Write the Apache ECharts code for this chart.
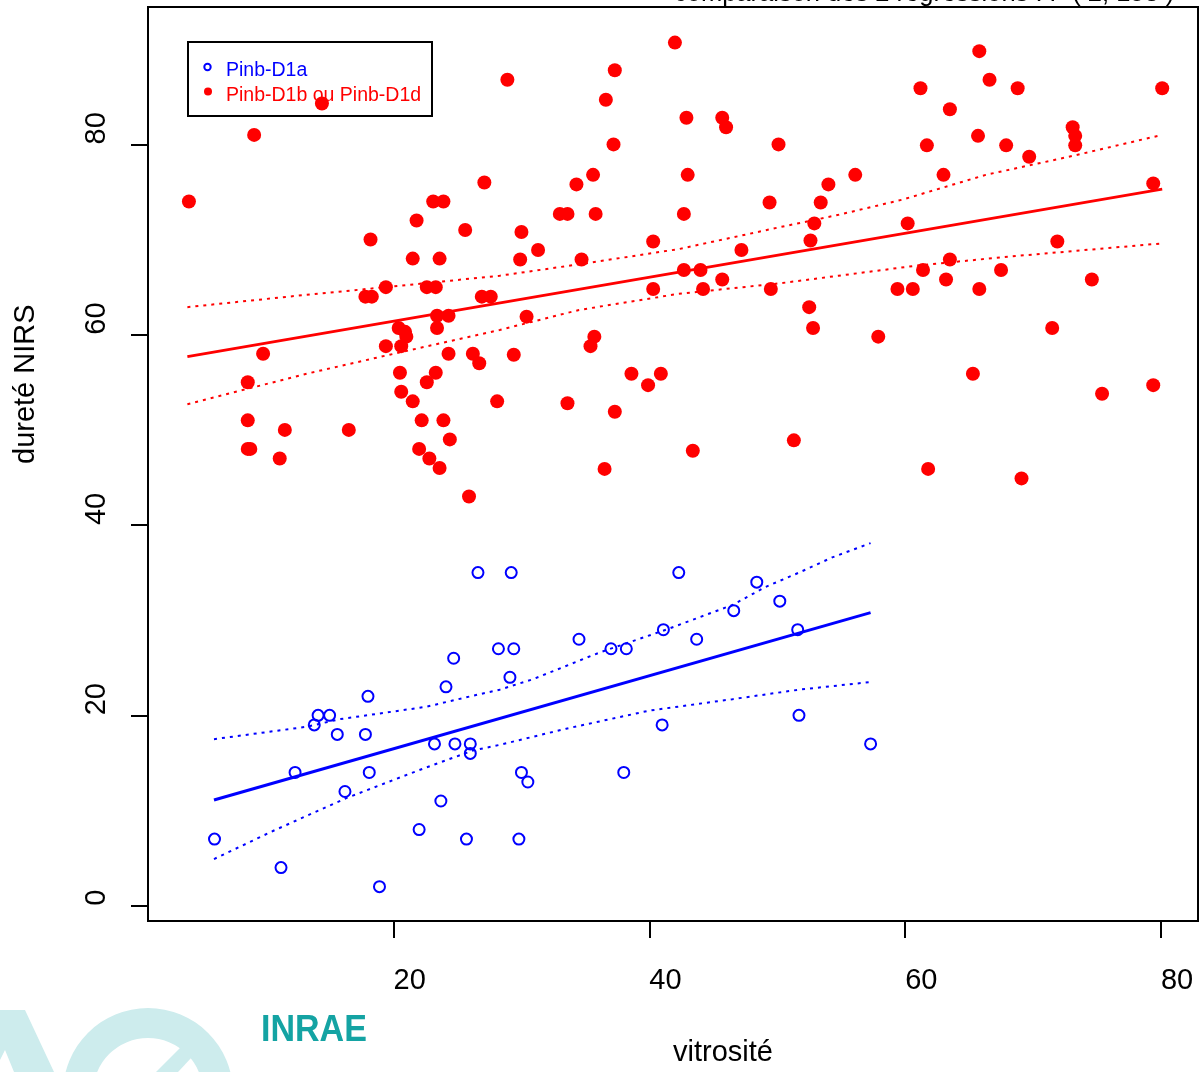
<!DOCTYPE html>
<html><head><meta charset="utf-8">
<script src="https://cdn.jsdelivr.net/npm/echarts@6/dist/echarts.min.js"></script>
<style>html,body{margin:0;padding:0;background:#fff}#c{width:1200px;height:1072px}</style>
</head><body><div id="c"></div>
<script>
// ---- data ----
const xTicks = [20, 40, 60, 80];
const yTicks = [0, 20, 40, 60, 80];
const titleText = 'comparaison des 2 regressions : F ( 2, 153 ) = 2';
const xName = 'vitrosité';
const yName = 'dureté NIRS';
const blueName = 'Pinb-D1a';
const redName = 'Pinb-D1b ou Pinb-D1d';

const blueX = [6, 11.2, 18.9, 12.3, 14.1, 15, 13.8, 15.6, 17.8, 18, 18.1, 16.2, 22, 23.7, 25.7, 23.2, 24.8, 26, 26, 24.1, 24.7, 26.6, 29.2, 28.2, 29.4, 29.1, 29.8, 30, 30.5, 34.5, 37, 38.2, 38, 41, 41.1, 42.3, 43.7, 46.6, 48.4, 50.2, 51.6, 51.7, 57.3];
const blueY = [7, 4, 2, 14, 20, 20, 19, 18, 18, 22, 14, 12, 8, 11, 7, 17, 17, 17, 16, 23, 26, 35, 35, 27, 27, 24, 7, 14, 13, 28, 27, 27, 14, 19, 29, 35, 28, 31, 34, 32, 29, 20, 17];

const redX = [4, 8.6, 9.8, 8.6, 8.6, 8.8, 11.5, 11.1, 16.5, 18.2, 17.8, 18.3, 19.4, 21.5, 21.8, 23.6, 23.1, 23.9, 25.6, 27.1,
  22.6, 23.3, 26.9, 27.6, 20.4, 20.9, 21, 20.6, 19.4, 23.4, 24.3, 23.4, 24.3, 26.2, 26.7, 20.5, 23.3, 22.6, 20.6, 21.5,
  22.2, 23.9, 24.4, 22, 22.8, 23.6, 25.9, 28.1, 9.1, 14.4,
  42, 37.3, 28.9, 36.6, 42.9, 45.7, 46, 37.2, 50.1, 35.6, 34.3, 43, 54, 33, 33.6, 35.8, 42.7, 49.4, 53.4, 52.9,
  52.6, 30, 31.3, 29.9, 34.7, 40.3, 47.2, 42.7, 44, 40.3, 44.2, 45.7, 49.5, 52.5, 52.8, 30.4, 35.7, 35.4, 29.4, 38.6,
  40.9, 39.9, 33.6, 37.3, 51.3, 43.4, 36.5,
  65.8, 66.6, 61.2, 68.8, 80.1, 63.5, 73.1, 73.3, 73.3, 65.7, 61.7, 67.9, 69.7, 56.1, 63, 79.4, 60.2, 71.9, 63.5, 61.4,
  67.5, 63.2, 59.4, 60.6, 65.8, 74.6, 71.5, 57.9, 65.3, 79.4, 75.4, 61.8, 69.1];
const redY = [74, 55, 58, 51, 48, 48, 50, 47, 50, 70, 64, 64, 65, 68, 72, 68, 74, 74, 71, 76,
  65, 65, 64, 64, 60.7, 60.3, 59.8, 58.8, 58.8, 62, 62, 60.7, 58, 58, 57, 56, 56, 55, 54, 53,
  51, 51, 49, 48, 47, 46, 43, 53, 81, 84.3,
  90.7, 87.8, 86.8, 84.7, 82.8, 82.8, 81.8, 80, 80, 76.8, 75.8, 76.8, 75.8, 72.7, 72.7, 72.7, 72.7, 73.9, 73.9, 71.7,
  69.9, 70.8, 68.9, 67.9, 67.9, 69.8, 68.9, 66.8, 66.8, 64.8, 64.8, 65.8, 64.8, 62.9, 60.7, 61.9, 59.8, 58.8, 57.9, 55.9,
  55.9, 54.7, 52.8, 51.9, 48.9, 47.8, 45.9,
  89.8, 86.8, 85.9, 85.9, 85.9, 83.7, 81.8, 80.9, 79.9, 80.9, 79.9, 79.9, 78.7, 76.8, 76.8, 75.9, 71.7, 69.8, 67.9, 66.8,
  66.8, 65.8, 64.8, 64.8, 64.8, 65.8, 60.7, 59.8, 55.9, 54.7, 53.8, 45.9, 44.9];

// regression lines and confidence bands
const blueFitX = [5.96, 57.3];
const blueFitY = [11.1, 30.8];
const blueUpX = [5.96, 13.2, 15.8, 22.55, 26.2, 28.3, 30.9, 36.1, 41.3, 46.5, 49.1, 51.7, 54.3, 57.3];
const blueUpY = [17.5, 18.8, 19.6, 20.9, 22.06, 22.7, 23.8, 26.6, 29.0, 31.6, 33.5, 35.0, 36.6, 38.1];
const blueLoX = [5.96, 10.57, 16.3, 22.3, 26.2, 28.3, 33.5, 40, 46.5, 51.7, 57.3];
const blueLoY = [4.9, 7.85, 11.3, 14.4, 16.3, 16.9, 18.6, 20.5, 21.7, 22.7, 23.5];

const redFitX = [3.88, 80.1];
const redFitY = [57.7, 75.3];
const redUpX = [3.88, 13.2, 19.4, 28.3, 34.5, 42.3, 50.2, 54.8, 59.8, 66.3, 72.8, 80.1];
const redUpY = [62.9, 64.2, 65.0, 66.2, 67.4, 69.0, 71.3, 72.6, 74.2, 76.8, 78.7, 81.0];
const redLoX = [3.88, 13.2, 19.7, 28.3, 34.5, 42.3, 50.2, 54.8, 61.1, 68.9, 80.1];
const redLoY = [52.7, 55.9, 57.9, 60.5, 62.6, 64.3, 65.4, 66.2, 67.3, 68.3, 69.6];

// ---- build ----
const zip = (a, b) => a.map((v, i) => [v, b[i]]);
const FONT = '"Liberation Sans", Arial, sans-serif';
const BLUE = '#0000ff', RED = '#ff0000';

const chart = echarts.init(document.getElementById('c'), null, {renderer: 'canvas'});

function lineSeries(data, color, width, dotted) {
  return {
    type: 'line', data, symbol: 'none', silent: true, z: 5,
    lineStyle: {color, width, type: dotted ? [3, 5] : 'solid', cap: 'butt'}
  };
}

chart.setOption({
  animation: false,
  backgroundColor: '#fff',
  grid: {left: 148, right: 2, top: 7, bottom: 141, show: true, borderColor: '#000', borderWidth: 2, backgroundColor: 'transparent'},
  xAxis: {
    type: 'value', min: 0.8, max: 82.9,
    name: xName, nameLocation: 'middle', nameGap: 117,
    nameTextStyle: {fontFamily: FONT, fontSize: 29, color: '#000', align: 'left', verticalAlign: 'top'},
    axisLine: {show: true, onZero: false, lineStyle: {color: '#000', width: 2}},
    axisTick: {show: true, length: 17, customValues: xTicks, lineStyle: {color: '#000', width: 2}},
    axisLabel: {customValues: xTicks, fontFamily: FONT, fontSize: 29, color: '#000', margin: 45, align: 'left', verticalAlign: 'top'},
    splitLine: {show: false}
  },
  yAxis: {
    type: 'value', min: -1.61, max: 94.44,
    name: yName, nameLocation: 'middle', nameGap: 122, nameRotate: 90,
    nameTextStyle: {fontFamily: FONT, fontSize: 29, color: '#000', align: 'left', verticalAlign: 'middle'},
    axisLine: {show: true, onZero: false, lineStyle: {color: '#000', width: 2}},
    axisTick: {show: true, length: 17, customValues: yTicks, lineStyle: {color: '#000', width: 2}},
    axisLabel: {customValues: yTicks, rotate: 90, fontFamily: FONT, fontSize: 29, color: '#000', margin: 51, align: 'left', verticalAlign: 'middle'},
    splitLine: {show: false}
  },
  series: [
    {type: 'scatter', name: blueName, data: zip(blueX, blueY), symbol: 'circle', symbolSize: 11, z: 3,
      itemStyle: {color: 'rgba(255,255,255,0)', borderColor: BLUE, borderWidth: 2, opacity: 1}},
    {type: 'scatter', name: redName, data: zip(redX, redY), symbol: 'circle', symbolSize: 14, z: 3,
      itemStyle: {color: RED, opacity: 1}},
    lineSeries(zip(blueFitX, blueFitY), BLUE, 3, false),
    lineSeries(zip(blueUpX, blueUpY), BLUE, 2, true),
    lineSeries(zip(blueLoX, blueLoY), BLUE, 2, true),
    lineSeries(zip(redFitX, redFitY), RED, 3, false),
    lineSeries(zip(redUpX, redUpY), RED, 2, true),
    lineSeries(zip(redLoX, redLoY), RED, 2, true)
  ],
  graphic: [
    // title (cut off at the top of the page)
    {type: 'text', x: 674, y: 7, z: 1, style: {text: titleText, font: '25.5px ' + FONT, fill: '#000', textVerticalAlign: 'bottom', textAlign: 'left'}},
    // legend
    {type: 'rect', shape: {x: 188, y: 42, width: 244, height: 74}, z: 1, style: {fill: 'rgba(255,255,255,0)', stroke: '#000', lineWidth: 2}},
    {type: 'circle', shape: {cx: 207.5, cy: 67, r: 3.2}, z: 1, style: {fill: 'rgba(255,255,255,0)', stroke: BLUE, lineWidth: 2}},
    {type: 'text', x: 226, y: 71, z: 1, style: {text: blueName, font: '19.5px ' + FONT, fill: BLUE, textVerticalAlign: 'middle'}},
    {type: 'circle', shape: {cx: 208, cy: 91.5, r: 4}, z: 1, style: {fill: RED}},
    {type: 'text', x: 226, y: 96, z: 1, style: {text: redName, font: '19.5px ' + FONT, fill: RED, textVerticalAlign: 'middle'}},
    // INRAE watermark
    {type: 'polygon', z: 0, shape: {points: [[0, 1010], [25, 1010], [54, 1072], [14, 1072], [5, 1050], [0, 1060]]}, style: {fill: '#cdeced'}},
    {type: 'ring', z: 0, shape: {cx: 148, cy: 1093, r: 85, r0: 55}, style: {fill: '#cdeced'}},
    {type: 'polygon', z: 0, shape: {points: [[156, 1072], [178, 1072], [206, 1042], [196, 1032]]}, style: {fill: '#cdeced'}},
    {type: 'text', x: 261, y: 1031, z: 1, scaleX: 0.92, originX: 0, style: {text: 'INRAE', font: 'bold 37px ' + FONT, fill: '#14a3a3', textVerticalAlign: 'middle'}}
  ]
});
</script></body></html>
